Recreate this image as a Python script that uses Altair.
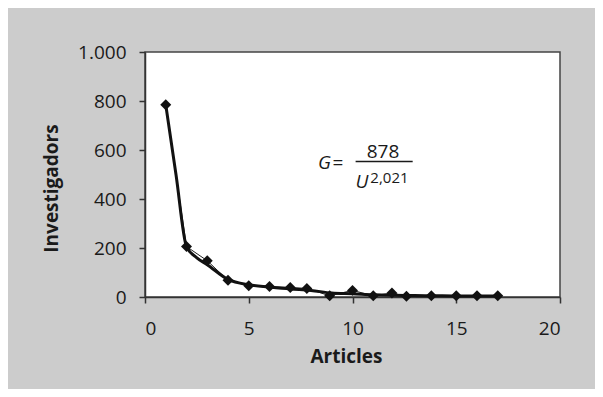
import altair as alt
import pandas as pd

# Observed data points (Articles, Investigadors)
articles = [1, 2, 3, 4, 5, 6, 7, 7.8, 8.9, 10, 11, 11.9, 12.6, 13.8, 15, 16, 17]
investigadors = [785, 206, 148, 68, 46, 43, 39, 35, 5, 27, 5, 16, 3, 5, 5, 5, 5]

# Thick smoothed curve
curve_x = [1, 1.5, 2, 2.5, 3, 4, 5, 6, 7, 8, 9, 10, 11, 12, 13, 14, 15, 16, 17]
curve_y = [785, 496, 206, 160, 132, 72, 50, 41, 33, 27, 16, 13, 9, 7, 6, 5, 4, 4, 4]

x_ticks = [0, 5, 10, 15, 20]
y_ticks = [0, 200, 400, 600, 800, 1000]

pts = pd.DataFrame({"Articles": articles, "Investigadors": investigadors})
curve = pd.DataFrame({"Articles": curve_x, "Investigadors": curve_y})

FONT = "Open Sans"
INK = "#1a1a1a"

xs = alt.Scale(domain=[0, 20], nice=False, zero=False)
ys = alt.Scale(domain=[0, 1000], nice=False)

xenc = alt.X("Articles:Q", scale=xs, axis=alt.Axis(
    values=x_ticks, title="Articles", grid=False, tickSize=6, labelPadding=16,
    labelFontSize=19, labelFont=FONT, labelColor=INK,
    titleFont=FONT, titleFontSize=19, titleFontWeight="bold", titleColor=INK,
    titleBaseline="top", titleY=50, titleX=201,
    domainColor="#333333", tickColor="#333333", domainWidth=1.5, tickWidth=1.5))
yenc = alt.Y("Investigadors:Q", scale=ys, axis=alt.Axis(
    values=y_ticks, title="Investigadors", grid=False, tickSize=6, labelPadding=13,
    labelExpr="replace(format(datum.value, ','), ',', '.')",
    labelFontSize=19, labelFont=FONT, labelColor=INK,
    titleFont=FONT, titleFontSize=19, titleFontWeight="bold", titleColor=INK,
    titleX=-94, titleY=136, titleBaseline="middle", titleAlign="center",
    domainColor="#333333", tickColor="#333333", domainWidth=1.5, tickWidth=1.5))

thin = alt.Chart(pts).mark_line(color="#222222", strokeWidth=1).encode(x=xenc, y=yenc)
thick = alt.Chart(curve).mark_line(color="#111111", strokeWidth=3, interpolate="monotone").encode(x=xenc, y=yenc)
marks = alt.Chart(pts).mark_point(shape="diamond", filled=True, size=120, color="#111111", opacity=1).encode(x=xenc, y=yenc)

txt_style = dict(font=FONT, color=INK)
g_txt = alt.Chart().mark_text(text="G", fontSize=19, fontStyle="italic", align="center", baseline="middle", **txt_style).encode(
    x=alt.datum(8.65, scale=xs), y=alt.datum(548, scale=ys))
eq_txt = alt.Chart().mark_text(text="=", fontSize=19, align="center", baseline="middle", **txt_style).encode(
    x=alt.datum(9.3, scale=xs), y=alt.datum(548, scale=ys))
num_txt = alt.Chart().mark_text(text="878", fontSize=19, align="center", baseline="middle", **txt_style).encode(
    x=alt.datum(11.47, scale=xs), y=alt.datum(593, scale=ys))
frac = alt.Chart().mark_rule(color=INK, strokeWidth=1.3).encode(
    x=alt.datum(10.15, scale=xs), x2=alt.datum(12.9), y=alt.datum(553, scale=ys))
u_txt = alt.Chart().mark_text(text="U", fontSize=19, fontStyle="italic", align="center", baseline="middle", **txt_style).encode(
    x=alt.datum(10.45, scale=xs), y=alt.datum(470, scale=ys))
exp_txt = alt.Chart().mark_text(text="2,021", fontSize=15, align="center", baseline="middle", **txt_style).encode(
    x=alt.datum(11.78, scale=xs), y=alt.datum(487, scale=ys))

chart = alt.layer(thin, thick, marks, g_txt, eq_txt, num_txt, frac, u_txt, exp_txt).properties(
    width=415, height=245,
    background="#cccccc",
    padding={"left": 137, "top": 44, "right": 35, "bottom": 92},
    autosize=alt.AutoSizeParams(type="none"),
).configure_view(fill="white", stroke="#444444", strokeWidth=1.5)

chart.save("out.html", embed_options={"renderer": "svg", "actions": False})
